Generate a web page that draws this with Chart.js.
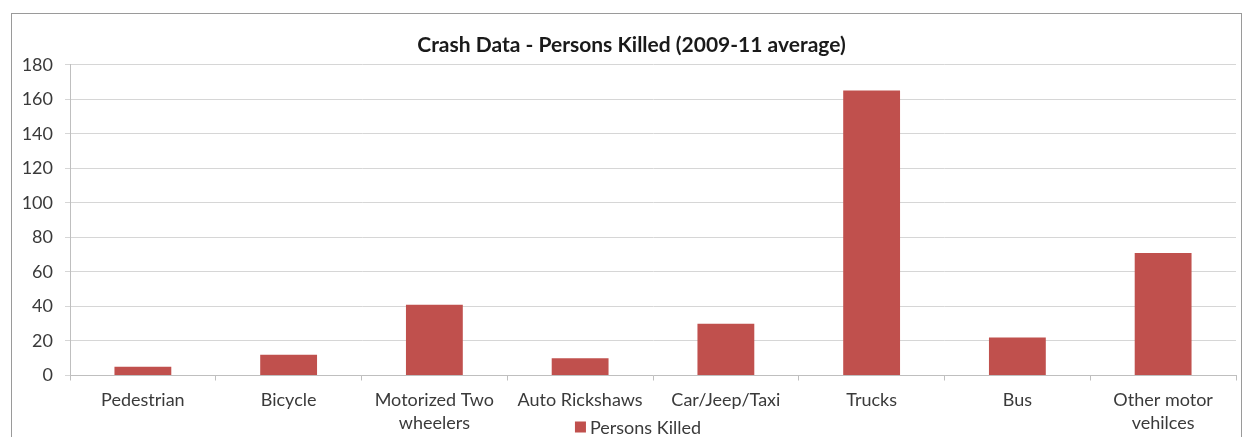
<!DOCTYPE html>
<html>
<head>
<meta charset="utf-8">
<script src="https://cdn.jsdelivr.net/npm/chart.js@4.4.0/dist/chart.umd.min.js"></script>
<style>
html, body { margin: 0; padding: 0; background: #fff; }
#wrap { position: relative; width: 1244px; height: 437px; overflow: hidden; }
#frame { position: absolute; left: 11px; top: 13px; width: 1229px; height: 440px; border: 1px solid #9a9a9a; pointer-events: none; }
canvas { position: absolute; left: 0; top: 0; }
</style>
</head>
<body>
<div id="wrap">
  <canvas id="ShowChart" width="1244" height="437"></canvas>
  <div id="frame"></div>
</div>
<script>
var Categories = [["Pedestrian"], ["Bicycle"], ["Motorized Two", "wheelers"], ["Auto Rickshaws"], ["Car/Jeep/Taxi"], ["Trucks"], ["Bus"], ["Other motor", "vehilces"]]
var Persons_Killed = [5, 12, 41, 10, 30, 165, 22, 71]
var Series_Label = "Persons Killed"
var Y_Min = 0, Y_Max = 180, Y_Step = 20
var Chart_Title = "Crash Data - Persons Killed (2009-11 average)"

var Font_Name = "Lato"
var Text_Color = "#3a3a3a"

// legend drawn under the axis labels, like the excel one (overlaps the 2nd label line)
var Bottom_Legend = {
  id: "bottomLegend",
  afterLayout: function(chart){
    // excel centres the title a bit to the right of the canvas middle
    chart.titleBlock.left = 27
  },
  afterDraw: function(chart){
    var c = chart.ctx, ds = chart.data.datasets[0]
    var area = chart.chartArea
    c.save()
    c.font = "18px " + Font_Name
    var w = c.measureText(ds.label).width
    var total = 11 + 4 + w
    var cx = (area.left + area.right) / 2 - 15
    var x = cx - total / 2
    var y = chart.height - 10
    c.fillStyle = ds.backgroundColor
    c.fillRect(x, y - 5.5, 11, 11)
    c.fillStyle = Text_Color
    c.textBaseline = "middle"
    c.textAlign = "left"
    c.fillText(ds.label, x + 15, y + 1)
    c.restore()
  }
}

var ctx = document.getElementById("ShowChart").getContext("2d")
var ChartObject = new Chart(ctx, {
  type: "bar",
  data: {
    labels: Categories,
    datasets: [{
      label: Series_Label,
      data: Persons_Killed,
      backgroundColor: "#C0504D",
      borderWidth: 0,
      categoryPercentage: 1,
      barPercentage: 0.39
    }]
  },
  options: {
    responsive: false,
    animation: false,
    layout: { padding: { left: 0, right: 8, top: 0, bottom: 0 } },
    plugins: {
      legend: { display: false },
      tooltip: { enabled: false },
      title: {
        display: true,
        text: Chart_Title,
        color: "#1a1a1a",
        font: { family: Font_Name, size: 21, weight: "bold" },
        padding: { top: 33, bottom: 6.5 }
      }
    },
    scales: {
      x: {
        grid: {
          offset: true,
          drawOnChartArea: false,
          tickLength: 5,
          color: "#bfbfbf"
        },
        border: { color: "#bfbfbf" },
        ticks: {
          color: Text_Color,
          font: { family: Font_Name, size: 18, lineHeight: 1.28 },
          padding: 8,
          maxRotation: 0,
          autoSkip: false
        },
        afterFit: function(scale){ scale.height = 61.5 }
      },
      y: {
        min: Y_Min,
        max: Y_Max,
        grid: {
          color: "#d6d6d6",
          tickLength: 5
        },
        border: { color: "#bfbfbf" },
        ticks: {
          stepSize: Y_Step,
          color: Text_Color,
          font: { family: Font_Name, size: 18 },
          padding: 12
        },
        afterFit: function(scale){ scale.width = 70 }
      }
    }
  },
  plugins: [Bottom_Legend]
})
</script>
</body>
</html>
